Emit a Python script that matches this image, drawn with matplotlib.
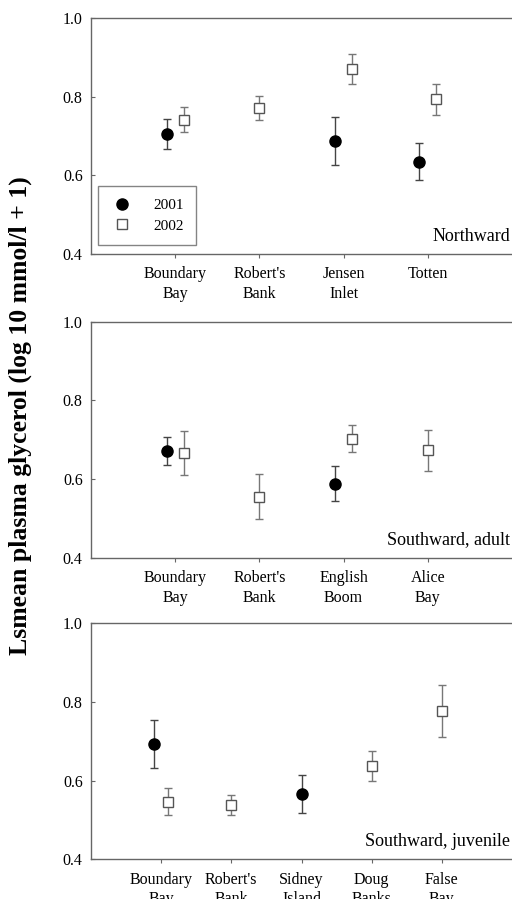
import numpy as np
import matplotlib.pyplot as plt
from matplotlib.lines import Line2D

plt.rcParams['font.family'] = ['Liberation Serif', 'DejaVu Serif']

# panel data: site labels, 2001 / 2002 means and half-widths of error bars
# (None where the year was not sampled)
titles = ['Northward', 'Southward, adult', 'Southward, juvenile']

sites_n = ['Boundary\nBay', "Robert's\nBank", 'Jensen\nInlet', 'Totten']
mean01_n = [0.706, None, 0.687, 0.634]
err01_n = [0.038, None, 0.060, 0.047]
mean02_n = [0.741, 0.771, 0.870, 0.793]
err02_n = [0.032, 0.030, 0.039, 0.040]

sites_a = ['Boundary\nBay', "Robert's\nBank", 'English\nBoom', 'Alice\nBay']
mean01_a = [0.671, None, 0.588, None]
err01_a = [0.035, None, 0.045, None]
mean02_a = [0.667, 0.555, 0.703, 0.673]
err02_a = [0.056, 0.057, 0.034, 0.052]

sites_j = ['Boundary\nBay', "Robert's\nBank", 'Sidney\nIsland', 'Doug\nBanks', 'False\nBay']
mean01_j = [0.693, None, 0.566, None, None]
err01_j = [0.061, None, 0.049, None, None]
mean02_j = [0.546, 0.538, None, 0.637, 0.777]
err02_j = [0.034, 0.025, None, 0.037, 0.066]

panels = [
    (sites_n, mean01_n, err01_n, mean02_n, err02_n),
    (sites_a, mean01_a, err01_a, mean02_a, err02_a),
    (sites_j, mean01_j, err01_j, mean02_j, err02_j),
]

fig = plt.figure(figsize=(5.12, 8.99), dpi=100)
bottoms = [0.7175, 0.3796, 0.0442]
h = 0.2625
left = 91 / 512

for k, (sites, m1, e1, m2, e2) in enumerate(panels):
    ax = fig.add_axes([left, bottoms[k], 1 - left, h])
    n = len(sites)
    both = [(a is not None and b is not None) for a, b in zip(m1, m2)]
    for i in range(n):
        pos = i + 1
        if m1[i] is not None:
            x = pos - 0.1 if both[i] else pos
            ax.errorbar(x, m1[i], yerr=e1[i], fmt='o', color='black',
                        ecolor='#444444', elinewidth=1, capsize=3, capthick=1,
                        markersize=8, zorder=3)
        if m2[i] is not None:
            x = pos + 0.1 if both[i] else pos
            ax.errorbar(x, m2[i], yerr=e2[i], fmt='s', mfc='white', mec='#555555',
                        mew=1, ecolor='#777777', elinewidth=1, capsize=3, capthick=1,
                        markersize=7, zorder=3)
    ax.set_xlim(0, n + 1)
    ax.set_ylim(0.4, 1.0)
    ax.set_xticks(np.arange(1, n + 1))
    ax.set_xticklabels(sites, fontsize=11.5, linespacing=1.3)
    ax.set_yticks([0.4, 0.6, 0.8, 1.0])
    ax.set_yticklabels(['0.4', '0.6', '0.8', '1.0'], fontsize=11.5)
    ax.tick_params(axis='x', direction='out', length=3, color='#666666', pad=6)
    ax.tick_params(axis='y', direction='in', length=3, color='#666666', pad=6)
    ax.spines['right'].set_visible(False)
    for s in ['left', 'top', 'bottom']:
        ax.spines[s].set_color('#666666')
        ax.spines[s].set_linewidth(1)
    ax.text(0.995, 0.075, titles[k], transform=ax.transAxes, ha='right',
            va='center', fontsize=13)
    if k == 0:
        handles = [
            Line2D([], [], marker='o', ls='none', color='black', markersize=8),
            Line2D([], [], marker='s', ls='none', mfc='white', mec='#555555',
                   mew=1, markersize=7),
        ]
        leg = ax.legend(handles, ['2001', '2002'], loc='lower left',
                        bbox_to_anchor=(0.017, 0.038), fancybox=False,
                        edgecolor='#666666', fontsize=11, borderpad=0.8,
                        handletextpad=1.3, labelspacing=0.45,
                        borderaxespad=0, handlelength=1.5)
        leg.get_frame().set_linewidth(1)

fig.text(0.04, 0.538, 'Lsmean plasma glycerol (log 10 mmol/l + 1)', rotation=90,
         ha='center', va='center', fontsize=18.5, fontweight='bold')

fig.savefig('out.png', dpi=100)
